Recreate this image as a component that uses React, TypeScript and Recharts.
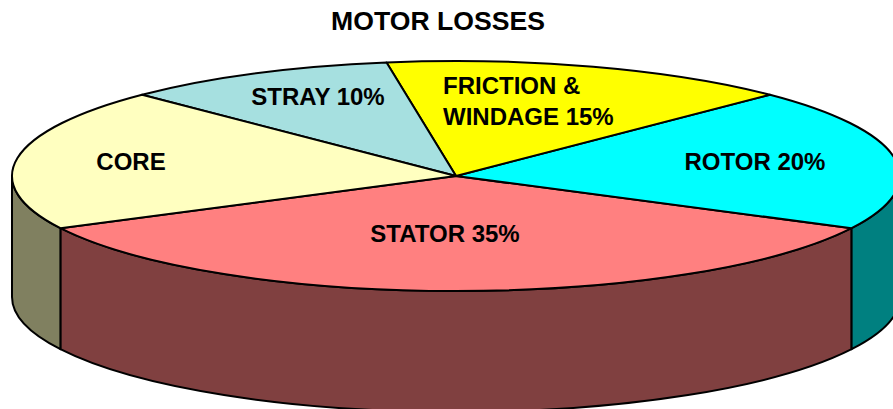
import { PieChart, Pie } from 'recharts';

const categories = ['STATOR', 'ROTOR', 'FRICTION & WINDAGE', 'STRAY', 'CORE'];
const losses = [35, 20, 15, 10, 20];
const topColors = ['#ff8080', '#00ffff', '#ffff00', '#a6e0e0', '#ffffc0'];
const wallColors = ['#804040', '#008080', '#808000', '#508080', '#808060'];
const labelLines = [['STATOR 35%'], ['ROTOR 20%'], ['FRICTION &', 'WINDAGE 15%'], ['STRAY 10%'], ['CORE']];

const data = categories.map((name, i) => ({ name, value: losses[i], top: topColors[i], wall: wallColors[i] }));

// label anchors, relative to the pie centre
const labelSpots = [
  { x: -11, y: 66, anchor: 'middle' },
  { x: 299, y: -6, anchor: 'middle' },
  { x: -13, y: -82, anchor: 'start' },
  { x: -138, y: -71, anchor: 'middle' },
  { x: -325, y: -6, anchor: 'middle' },
];

const SQUASH = 0.259;
const DEPTH = 121;
const FONT = '"Liberation Sans", Arial, sans-serif';

const rad = (a: number) => (a * Math.PI) / 180;

function TopSlice(props: any) {
  const { cx, cy, outerRadius: r, startAngle, endAngle, payload } = props;
  const ry = r * SQUASH;
  const x = (a: number) => cx + r * Math.cos(rad(a));
  const y = (a: number) => cy - ry * Math.sin(rad(a));
  const large = endAngle - startAngle > 180 ? 1 : 0;
  const d = `M${cx},${cy} L${x(startAngle)},${y(startAngle)} A${r},${ry} 0 ${large} 0 ${x(endAngle)},${y(endAngle)} Z`;
  return <path d={d} fill={payload.top} stroke="#000" strokeWidth={2} strokeLinejoin="round" />;
}

// only the part of a slice in the front half of the disc shows a wall
function WallSlice(props: any) {
  const { cx, cy, outerRadius: r, startAngle, endAngle, payload } = props;
  const ry = r * SQUASH;
  const x = (a: number) => cx + r * Math.cos(rad(a));
  const y = (a: number) => cy - ry * Math.sin(rad(a));
  const parts = [[180, 360], [540, 720]]
    .map(([lo, hi]) => [Math.max(lo, startAngle), Math.min(hi, endAngle)])
    .filter(([a, b]) => b > a);
  if (!parts.length) return <g />;
  return (
    <g>
      {parts.map(([a, b]) => (
        <path
          key={a}
          d={`M${x(a)},${y(a)} A${r},${ry} 0 0 0 ${x(b)},${y(b)} L${x(b)},${y(b) + DEPTH} A${r},${ry} 0 0 1 ${x(a)},${y(a) + DEPTH} Z`}
          fill={payload.wall}
          stroke="#000"
          strokeWidth={2}
          strokeLinejoin="round"
        />
      ))}
    </g>
  );
}

function SliceLabel(props: any) {
  const { cx, cy, index } = props;
  const spot = labelSpots[index];
  return (
    <text
      x={cx + spot.x}
      y={cy + spot.y}
      textAnchor={spot.anchor as any}
      fontFamily={FONT}
      fontWeight="bold"
      fontSize={24}
      fill="#000"
    >
      {labelLines[index].map((line, i) => (
        <tspan key={line} x={cx + spot.x} dy={i === 0 ? 0 : 31}>{line}</tspan>
      ))}
    </text>
  );
}

export default function App() {
  return (
    <div style={{ position: 'absolute', left: 0, top: 0, width: 893, height: 409, overflow: 'hidden', background: '#fff' }}>
      <PieChart width={893} height={409} margin={{ top: 0, right: 0, bottom: 0, left: 0 }}>
        <text x={438} y={30} textAnchor="middle" fontFamily={FONT} fontWeight="bold" fontSize={26.6} fill="#000">
          MOTOR LOSSES
        </text>
        <Pie
          data={data}
          dataKey="value"
          cx={456}
          cy={176}
          outerRadius={444}
          startAngle={207}
          endAngle={567}
          shape={WallSlice}
          isAnimationActive={false}
          legendType="none"
        />
        <Pie
          data={data}
          dataKey="value"
          cx={456}
          cy={176}
          outerRadius={444}
          startAngle={207}
          endAngle={567}
          shape={TopSlice}
          label={SliceLabel}
          labelLine={false}
          isAnimationActive={false}
          legendType="none"
        />
      </PieChart>
    </div>
  );
}
